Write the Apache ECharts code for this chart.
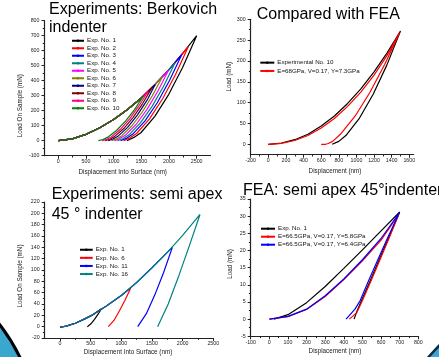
<!DOCTYPE html>
<html><head><meta charset="utf-8">
<script src="https://cdn.jsdelivr.net/npm/echarts@6/dist/echarts.min.js"></script>
<style>html,body{margin:0;padding:0;background:#fff}#c{width:439px;height:357px}</style>
</head><body><div id="c"></div>
<script>
// ---------- Panel 1: Experiments, Berkovich indenter ----------
const berkNames = ['Exp. No. 1','Exp. No. 2','Exp. No. 3','Exp. No. 4','Exp. No. 5','Exp. No. 6','Exp. No. 7','Exp. No. 8','Exp. No. 9','Exp. No. 10'];
const berkExp1 = [[0,0],[250,12],[500,42],[750,86],[1000,141],[1250,208],[1500,285],[1750,375],[2000,474],[2250,583],[2500,700],[2248,490],[1996,309],[1744,162],[1492,53],[1366,22],[1240,0]];
const berkExp2 = [[0,0],[250,12],[500,42],[750,86],[1000,141],[1250,208],[1500,285],[1750,375],[2000,474],[2250,583],[2350,628],[2116,440],[1882,278],[1648,145],[1414,48],[1297,19],[1180,0]];
const berkExp3 = [[0,0],[250,12],[500,42],[750,86],[1000,141],[1250,208],[1500,285],[1750,375],[2000,474],[2230,573],[2009,401],[1788,253],[1567,132],[1346,44],[1235,17],[1125,0]];
const berkExp4 = [[0,0],[250,12],[500,42],[750,86],[1000,141],[1250,208],[1500,285],[1750,375],[2000,474],[2110,519],[1902,363],[1694,229],[1486,120],[1278,39],[1174,15],[1070,0]];
const berkExp5 = [[0,0],[250,12],[500,42],[750,86],[1000,141],[1250,208],[1500,285],[1750,375],[1990,468],[1795,328],[1600,207],[1405,108],[1210,36],[1112,14],[1015,0]];
const berkExp6 = [[0,0],[250,12],[500,42],[750,86],[1000,141],[1250,208],[1500,285],[1750,375],[1880,425],[1696,298],[1512,188],[1328,98],[1144,32],[1052,12],[960,0]];
const berkExp7 = [[0,0],[250,12],[500,42],[750,86],[1000,141],[1250,208],[1500,285],[1750,375],[1780,385],[1604,270],[1428,170],[1252,89],[1076,29],[988,11],[900,0]];
const berkExp8 = [[0,0],[250,12],[500,42],[750,86],[1000,141],[1250,208],[1500,285],[1690,352],[1521,246],[1352,156],[1183,81],[1014,27],[930,10],[845,0]];
const berkExp9 = [[0,0],[250,12],[500,42],[750,86],[1000,141],[1250,208],[1500,285],[1620,328],[1454,230],[1288,145],[1122,76],[956,25],[873,9],[790,0]];
const berkExp10 = [[0,0],[250,12],[500,42],[750,86],[1000,141],[1250,208],[1500,285],[1540,298],[1377,207],[1214,130],[1051,68],[888,22],[806,8],[725,0]];
const berkX = [0,500,1000,1500,2000,2500];
const berkXMinor = [250,750,1250,1750,2250];
const berkY = [-100,0,100,200,300,400,500,600,700,800];
const berkYMinor = [-50,50,150,250,350,450,550,650,750];

// ---------- Panel 2: Compared with FEA ----------
const cmpNames = ['Experimental No. 10','E=68GPa, V=0.17, Y=7.3GPa'];
const cmpExp10 = [[0,0],[150,3],[300,11],[450,24],[600,44],[750,68],[900,98],[1050,133],[1200,174],[1350,220],[1500,272],[1345,190],[1190,120],[1035,63],[880,21],[800,7],[725,0]];
const cmpFea = [[0,0],[150,2],[300,9],[450,21],[600,39],[750,62],[900,91],[1050,125],[1200,166],[1350,214],[1490,268],[1322,192],[1154,125],[986,68],[818,24],[730,7],[680,2],[650,0],[600,0]];
const cmpX = [-200,0,200,400,600,800,1000,1200,1400,1600];
const cmpXMinor = [-100,100,300,500,700,900,1100,1300,1500];
const cmpY = [0,50,100,150,200,250,300];
const cmpYMinor = [25,75,125,175,225,275];

// ---------- Panel 3: Experiments, semi apex 45 deg indenter ----------
const semiNames = ['Exp. No. 1','Exp. No. 6','Exp. No. 11','Exp. No. 16'];
const semiExp1 = [[0,-1],[100,1],[250,6],[400,13],[550,22],[679,32],[621,22],[562,13],[504,5],[446,0]];
const semiExp6 = [[0,-1],[100,1],[250,6],[500,19],[750,36],[1000,55],[1152,68],[1061,47],[970,28],[879,11],[788,0]];
const semiExp11 = [[0,-1],[100,1],[250,6],[500,19],[750,36],[1000,55],[1250,78],[1500,104],[1750,131],[1832,140],[1691,96],[1550,57],[1408,23],[1267,0]];
const semiExp16 = [[0,-1],[100,1],[250,6],[500,19],[750,36],[1000,55],[1250,78],[1500,104],[1750,131],[2000,161],[2283,198],[2110,143],[1938,90],[1765,40],[1592,0]];
const semiX = [0,500,1000,1500,2000,2500];
const semiXMinor = [250,750,1250,1750,2250];
const semiY = [-20,0,20,40,60,80,100,120,140,160,180,200,220];
const semiYMinor = [-10,10,30,50,70,90,110,130,150,170,190,210];

// ---------- Panel 4: FEA, semi apex 45 deg indenter ----------
const feaNames = ['Exp. No. 1','E=66.5GPa, V=0.17, Y=5.8GPa','E=66.5GPa, V=0.17, Y=6.4GPa'];
const feaExp1 = [[25,0],[100,1.3],[200,4.8],[300,9.5],[400,14.8],[500,20.2],[600,25.7],[700,31.2],[650,24.9],[600,18.6],[550,12.2],[500,6],[470,2.2],[455,0]];
const feaY58 = [[0,0],[100,0.7],[200,2.8],[300,6.6],[400,11.5],[500,17],[600,23],[695,30.5],[648,24.2],[600,18],[550,11.6],[500,5.4],[470,1.9],[430,0]];
const feaY64 = [[0,0],[100,0.8],[200,2.9],[300,6.8],[400,11.7],[500,17.3],[600,23.5],[698,31],[636,23.8],[582,17.2],[530,10.8],[488,5.4],[460,2.9],[412,0]];
const feaX = [-100,0,100,200,300,400,500,600,700,800];
const feaXMinor = [-50,50,150,250,350,450,550,650,750];
const feaY = [-5,0,5,10,15,20,25,30,35];
const feaYMinor = [-2.5,2.5,7.5,12.5,17.5,22.5,27.5,32.5];

// ---------- styling ----------
const F = "'Liberation Sans', Arial, sans-serif";
const berkColors = ['#000000','#ff0000','#0000ff','#008080','#ff00ff','#808000','#000080','#800000','#ff0080','#008000'];
const semiColors = ['#000000','#ff0000','#0000ff','#008080'];
const cmpColors = ['#000000','#ff0000'];
const feaColors = ['#000000','#ff0000','#0000ff'];

const grids = [
  {left:44.5, top:20.7, width:166, height:135},
  {left:250.7, top:19.3, width:163, height:135.4},
  {left:44.7, top:202, width:168.6, height:136},
  {left:250.7, top:199, width:167.6, height:137.3}
];

function axisPair(grid, min, max, labels, minors, pos, isX) {
  const main = {type:'value', gridIndex:grid, min:min, max:max, position:pos,
    axisLine:{show:true, onZero:false, lineStyle:{color:'#222', width:1.2}},
    axisTick:{show:true, inside:false, length:3, customValues:labels, lineStyle:{color:'#222', width:1}},
    axisLabel:{show:true, customValues:labels, fontSize:5.3, color:'#222', margin:isX?3.5:5, fontFamily:F, formatter:function(v){return String(v);}},
    splitLine:{show:false}};
  const minor = {type:'value', gridIndex:grid, min:min, max:max, position:pos,
    axisLine:{show:false, onZero:false},
    axisTick:{show:true, inside:false, length:1.8, customValues:minors, lineStyle:{color:'#222', width:1}},
    axisLabel:{show:false}, splitLine:{show:false}};
  return [main, minor];
}

const xAxes = [].concat(
  axisPair(0, -250, 2750, berkX, berkXMinor, 'bottom', true),
  axisPair(1, -200, 1650, cmpX, cmpXMinor, 'bottom', true),
  axisPair(2, -250, 2500, semiX, semiXMinor, 'bottom', true),
  axisPair(3, -100, 800, feaX, feaXMinor, 'bottom', true)
);
const yAxes = [].concat(
  axisPair(0, -100, 800, berkY, berkYMinor, 'left', false),
  axisPair(1, -25, 300, cmpY, cmpYMinor, 'left', false),
  axisPair(2, -20, 220, semiY, semiYMinor, 'left', false),
  axisPair(3, -5, 35, feaY, feaYMinor, 'left', false)
);

function mk(prefix, name, data, color, p) {
  return {type:'line', name:prefix+name, data:data, xAxisIndex:2*p, yAxisIndex:2*p,
    symbol:'none', showSymbol:false, smooth:false, silent:true, animation:false,
    itemStyle:{color:color}, lineStyle:{color:color, width:1.2}};
}
const berkData = [berkExp1,berkExp2,berkExp3,berkExp4,berkExp5,berkExp6,berkExp7,berkExp8,berkExp9,berkExp10];
const cmpData = [cmpExp10, cmpFea];
const semiData = [semiExp1, semiExp6, semiExp11, semiExp16];
const feaData = [feaExp1, feaY58, feaY64];

const series = [];
berkNames.forEach((n,i)=>series.push(mk('p1_', n, berkData[i], berkColors[i], 0)));
cmpNames.forEach((n,i)=>series.push(mk('p2_', n, cmpData[i], cmpColors[i], 1)));
semiNames.forEach((n,i)=>series.push(mk('p3_', n, semiData[i], semiColors[i], 2)));
feaNames.forEach((n,i)=>series.push(mk('p4_', n, feaData[i], feaColors[i], 3)));

function lg(prefix, names, left, top, w, pitch) {
  return {data:names.map(n=>prefix+n), formatter:function(n){return n.slice(3);},
    orient:'vertical', left:left, top:top, itemWidth:w, itemHeight:3, itemGap:0, padding:0,
    selectedMode:false, lineStyle:{width:2},
    textStyle:{fontSize:6.2, lineHeight:pitch, fontFamily:F, color:'#111', padding:[0,0,0,-2]}};
}

const tt = (text, left, top, lh) => ({text:text, left:left, top:top, padding:0,
  textStyle:{fontSize:16, fontWeight:'normal', color:'#000', fontFamily:F, lineHeight:lh}});

const axName = (text, x, y, rot) => ({type:'text', x:x, y:y, rotation:rot?Math.PI/2:0,
  style:{text:text, fontSize:6.3, fontFamily:F, fill:'#222', align:'center', verticalAlign:'middle', textAlign:'center', textVerticalAlign:'middle'}});

const option = {
  backgroundColor:'#ffffff',
  animation:false,
  title:[
    tt('Experiments: Berkovich\nindenter', 49, 0, 18.5),
    tt('Compared with FEA', 256.7, 5.5, 18),
    tt('Experiments: semi apex\n45 ° indenter', 51.7, 184, 20.5),
    tt('FEA: semi apex 45°indenter', 243, 181.5, 18)
  ],
  grid:grids,
  xAxis:xAxes,
  yAxis:yAxes,
  legend:[
    lg('p1_', berkNames, 71, 37, 12, 7.5),
    lg('p2_', cmpNames, 259.3, 58.5, 14, 8.3),
    lg('p3_', semiNames, 79, 245.7, 12.7, 8.1),
    lg('p4_', feaNames, 260, 224.7, 14, 8)
  ],
  series:series,
  graphic:[
    axName('Load On Sample (mN)', 20, 105.7, true),
    axName('Displacement Into Surface (nm)', 122.7, 172.3, false),
    axName('Load (mN)', 229.3, 76.7, true),
    axName('Displacement (nm)', 335, 171, false),
    axName('Load On Sample (mN)', 20, 276, true),
    axName('Displacement Into Surface (nm)', 128, 352.3, false),
    axName('Load (mN)', 230, 264, true),
    axName('Displacement (nm)', 335, 351.3, false),
    {type:'circle', shape:{cx:-150, cy:440, r:189}, style:{fill:'#3ba7cf', stroke:'#000', lineWidth:3}, z:100},
    {type:'polygon', shape:{points:[[428,357],[439,345],[439,357]]}, style:{fill:'#3ba7cf'}, z:100},
    {type:'polyline', shape:{points:[[428,357.5],[439.5,345]]}, style:{stroke:'#0b2a4a', lineWidth:2.5}, z:101}
  ]
};

const chart = echarts.init(document.getElementById('c'), null, {renderer:'canvas'});
chart.setOption(option);
</script>
</body></html>
